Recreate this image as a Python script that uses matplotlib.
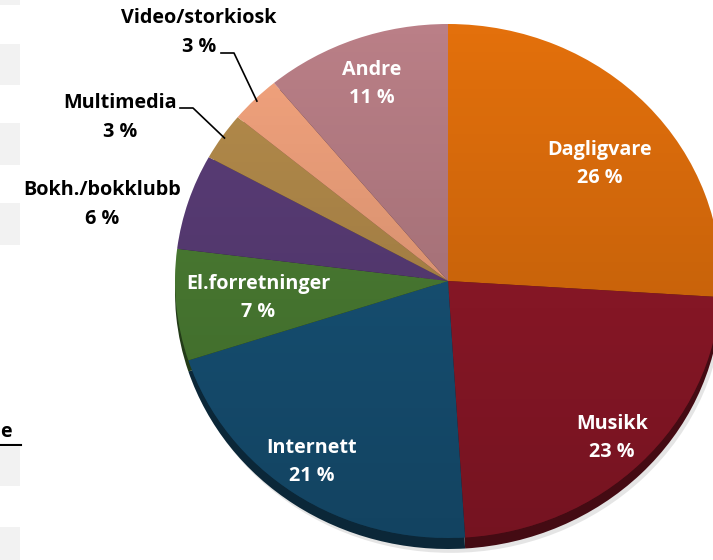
import numpy as np
import matplotlib.pyplot as plt
from matplotlib.patches import Ellipse, Rectangle
from matplotlib.colors import to_rgb

# data
categories = ["Dagligvare", "Musikk", "Internett", "El.forretninger",
              "Bokh./bokklubb", "Multimedia", "Video/storkiosk", "Andre"]
shares = [26, 23, 21, 7, 6, 3, 3, 11]
colors = ["#E3700C", "#96192A", "#18567C", "#4E8235",
          "#5C3E7A", "#B68D4C", "#F4A47E", "#BA7F87"]

# layout in pixels
W, H = 713, 560
CX, CY, RX, RY = 448, 281, 273, 257
DEPTH = 11
PAD = 0.12

fig = plt.figure(figsize=(W / 100, H / 100), dpi=100)
ax = fig.add_axes([(CX - RX) / W, (H - CY - RY - PAD * RY) / H,
                   2 * RX / W, (2 + PAD) * RY / H])


def px(x, y):
    # pixel position in the picture -> pie data coordinates
    return (x - CX) / RX, (CY - y) / RY


# soft shadow and 3d rim
ax.add_patch(Ellipse((0.01, -DEPTH / RY - 0.015), 2.0, 2.0, color="0.8",
                     alpha=0.5, lw=0, zorder=0))
dark = [tuple(c * 0.45 for c in to_rgb(col)) for col in colors]
ax.pie(shares, colors=dark, startangle=90, counterclock=False,
       center=(0, -DEPTH / RY), radius=1, wedgeprops=dict(linewidth=0))
wedges, _ = ax.pie(shares, colors=colors, startangle=90, counterclock=False,
                   radius=1, wedgeprops=dict(linewidth=0))

# vertical shading like the original gradient fill
grad = np.zeros((256, 1, 4))
grad[:, 0, 3] = np.linspace(0.0, 0.22, 256)
im = ax.imshow(grad, extent=(-1, 1, -1, 1), aspect="auto", zorder=5)
im.set_clip_path(Ellipse((0, 0), 2, 2, transform=ax.transData))

ax.set_aspect("auto")
ax.set_xlim(-1, 1)
ax.set_ylim(-1 - PAD, 1)
ax.axis("off")

font = dict(family=["Open Sans", "DejaVu Sans"], fontweight="bold",
            fontsize=14.2, ha="center", va="center", zorder=10)

# labels inside the slices
inner = {
    "Dagligvare": (600, 150),
    "Musikk": (612, 424),
    "Internett": (312, 448),
    "El.forretninger": (258, 284),
    "Andre": (372, 70),
}
for name, (x, y) in inner.items():
    v = shares[categories.index(name)]
    ax.text(*px(x, y), name, color="white", **font)
    ax.text(*px(x, y + 28), f"{v} %", color="white", **font)

# labels outside
outer = {
    "Video/storkiosk": (199, 18),
    "Multimedia": (120, 103),
    "Bokh./bokklubb": (102, 190),
}
for name, (x, y) in outer.items():
    v = shares[categories.index(name)]
    ax.text(*px(x, y), name, color="black", **font)
    ax.text(*px(x, y + 29), f"{v} %", color="black", **font)

# leader lines to the small slices
cum = np.cumsum([0] + shares)
for name, start in [("Video/storkiosk", (221, 53)), ("Multimedia", (180, 108))]:
    i = categories.index(name)
    mid = (cum[i] + cum[i + 1]) / 2 / 100
    ang = np.deg2rad(90 - 360 * mid)
    ex, ey = np.cos(ang) * 0.99, np.sin(ang) * 0.99
    sx, sy = px(*start)
    kx, _ = px(start[0] + 13, start[1])
    ax.plot([sx, kx, ex], [sy, sy, ey], color="black", lw=1.2, zorder=9,
            clip_on=False)

# bits of the neighbouring table on the left edge
for y0, y1 in [(0, 5), (44, 85), (123, 165), (203, 245), (447, 486), (527, 560)]:
    fig.patches.append(Rectangle((0, 1 - y1 / H), 20 / W, (y1 - y0) / H,
                                 transform=fig.transFigure, color="#F2F2F2",
                                 lw=0))
fig.text(0.5 / W, 1 - 432 / H, "e", ha="left", va="center", fontsize=14.2,
         fontweight="bold", family=["Open Sans", "DejaVu Sans"])
fig.add_artist(plt.Line2D([0, 21 / W], [1 - 445 / H, 1 - 445 / H],
                          color="black", lw=1.5, transform=fig.transFigure))

fig.savefig("out.png", dpi=100)
